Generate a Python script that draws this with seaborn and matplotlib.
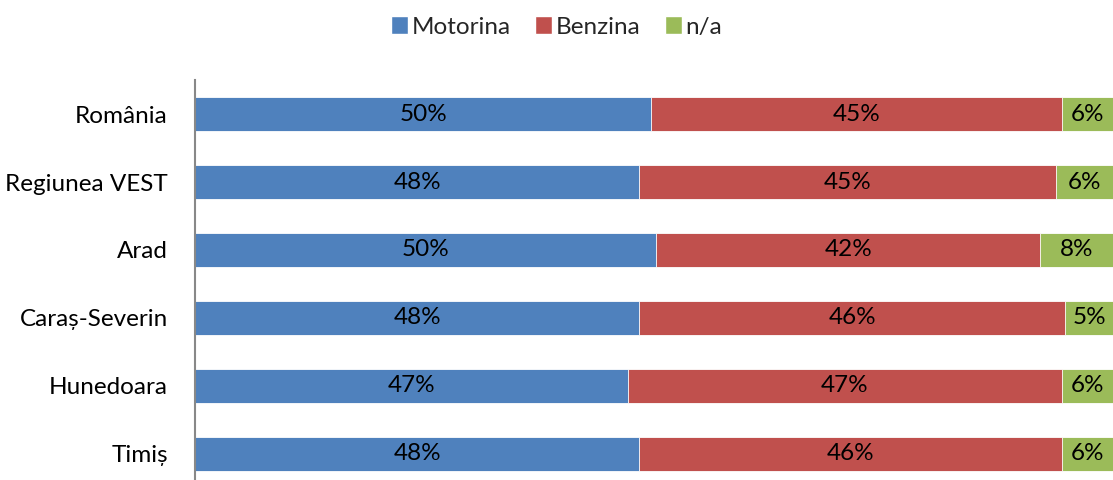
import pandas as pd
import matplotlib.pyplot as plt
import seaborn as sns
from matplotlib.patches import Patch

# Data (shares in %)
regions = ['România', 'Regiunea VEST', 'Arad', 'Caraș-Severin', 'Hunedoara', 'Timiș']
motorina = [49.7, 48.4, 50.2, 48.4, 47.2, 48.4]
benzina = [44.7, 45.4, 41.9, 46.4, 47.2, 46.0]
na = [5.6, 6.2, 7.9, 5.2, 5.6, 5.6]

colors = {'Motorina': '#4F81BD', 'Benzina': '#C0504D', 'n/a': '#9BBB59'}

df = pd.DataFrame({'Regiune': regions, 'Motorina': motorina, 'Benzina': benzina, 'n/a': na})
df['cum_mb'] = df['Motorina'] + df['Benzina']
df['cum_all'] = df['cum_mb'] + df['n/a']

sns.set_style('white')
plt.rcParams['font.family'] = ['Lato', 'DejaVu Sans']

fig = plt.figure(figsize=(11.13, 4.8), dpi=100)
ax = fig.add_axes([195 / 1113, -8 / 480, 1 - 195 / 1113, 408 / 480])

# Stacked bars drawn as overlapping cumulative totals
for col, name in [('cum_all', 'n/a'), ('cum_mb', 'Benzina'), ('Motorina', 'Motorina')]:
    sns.barplot(data=df, x=col, y='Regiune', orient='h', color=colors[name],
                width=0.5, saturation=1, edgecolor='white', linewidth=0.6, ax=ax)

# Percentage labels centered in each segment
for i, row in df.iterrows():
    starts = [0, row['Motorina'], row['cum_mb']]
    vals = [row['Motorina'], row['Benzina'], row['n/a']]
    for s, v in zip(starts, vals):
        ax.text(s + v / 2, i, f'{v:.0f}%', ha='center', va='center', fontsize=17.5, color='black')

ax.set_xlim(0, 100)
ax.set_ylim(5.5, -0.5)
ax.set_xlabel('')
ax.set_ylabel('')
ax.set_xticks([])
ax.tick_params(axis='y', length=0, pad=19.5, labelsize=17.5, labelcolor='black')
for s in ['top', 'right', 'bottom']:
    ax.spines[s].set_visible(False)
ax.spines['left'].set_color('#888888')
ax.spines['left'].set_linewidth(1.5)

handles = [Patch(facecolor=colors[n], label=n) for n in ['Motorina', 'Benzina', 'n/a']]
fig.legend(handles=handles, loc='center', bbox_to_anchor=(0.5, 1 - 27 / 480), ncol=3,
           frameon=False, fontsize=17.5, handlelength=0.7, handleheight=0.7,
           handletextpad=0.15, columnspacing=1.0)

plt.savefig('out.png', dpi=100)
